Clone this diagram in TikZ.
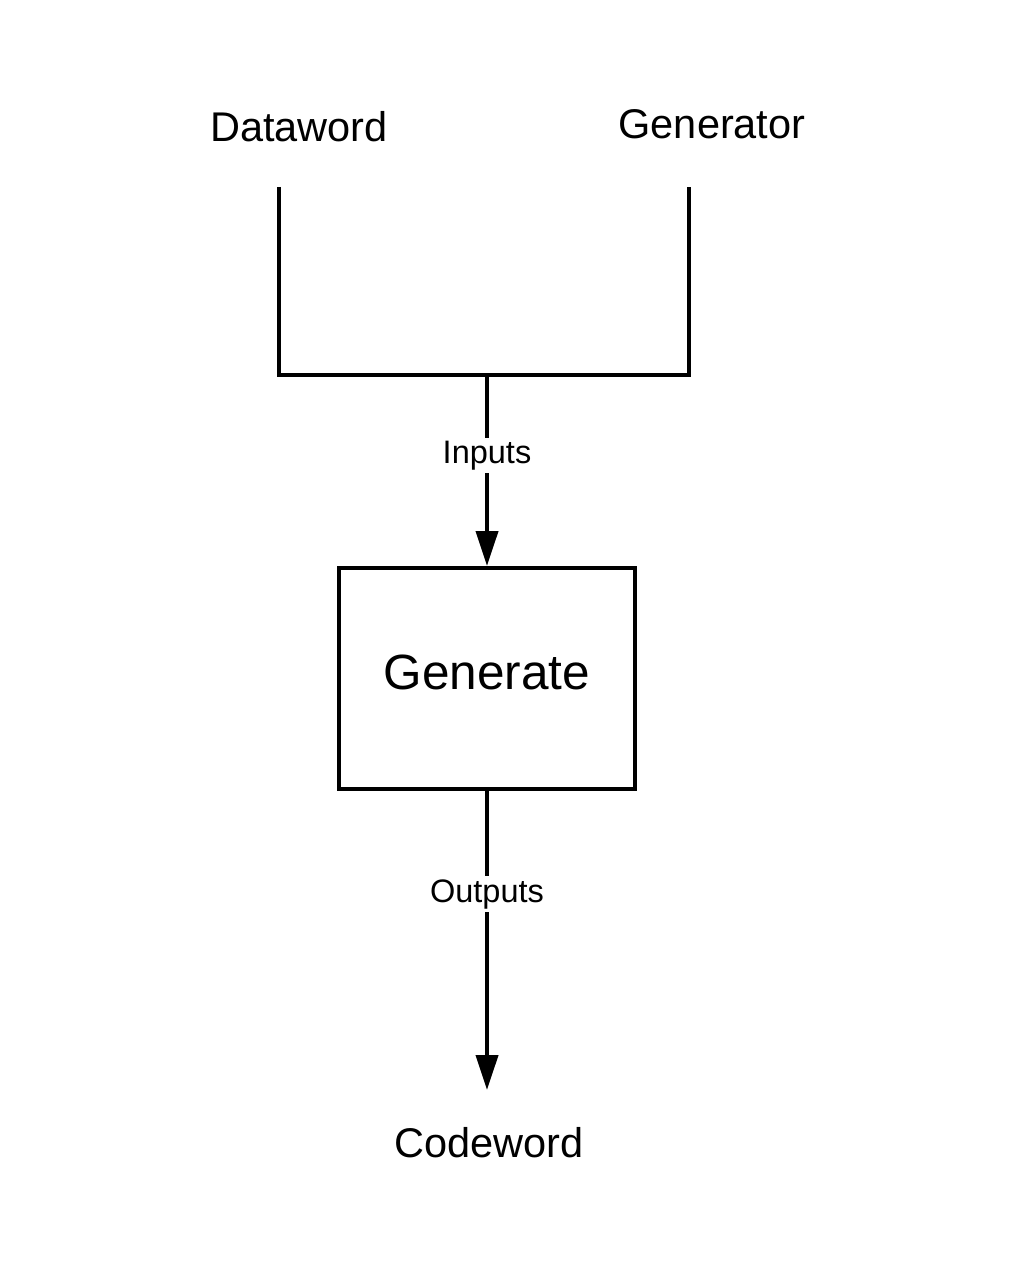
\documentclass[tikz,border=0pt]{standalone}
\usepackage{fontspec}
\setmainfont{Liberation Sans}
\usetikzlibrary{arrows.meta}
\begin{document}
\begin{tikzpicture}[x=1pt,y=-1pt,
  wire/.style={line width=4pt},
  arr/.style={wire,-{Triangle[length=35pt,width=22pt]}},
  bigtext/.style={font=\fontsize{41.5}{41.5}\selectfont, anchor=base, inner sep=0pt},
  lbl/.style={font=\fontsize{32.5}{32.5}\selectfont, fill=white, inner sep=3pt},
  procbox/.style={draw, line width=4pt, minimum width=296pt, minimum height=221pt, font=\fontsize{49.5}{49.5}\selectfont}
]
\useasboundingbox (0,0) rectangle (1013,1281);
\fill[white] (0,0) rectangle (1013,1281);
\node[bigtext] (dw) at (299,142) {Dataword};
\node[bigtext] (gn) at (712,139) {Generator};
\coordinate (dwend) at (279,187);
\coordinate (gnend) at (689,187);
\coordinate (join) at (487,375);
\node[procbox] (gen) at (487,678.5) {\raisebox{13pt}{Generate}};
\node[bigtext] (cw) at (489,1157) {Codeword};
\coordinate (cwtip) at (487,1090);
\draw[wire] (dwend) |- (join) -| (gnend);
\draw[arr] (join) -- node[lbl, pos=0.42] (inp) {Inputs} (gen.north);
\draw[arr] (gen.south) -- node[lbl, pos=0.345] (outp) {Outputs} (cwtip);
\end{tikzpicture}
\end{document}
